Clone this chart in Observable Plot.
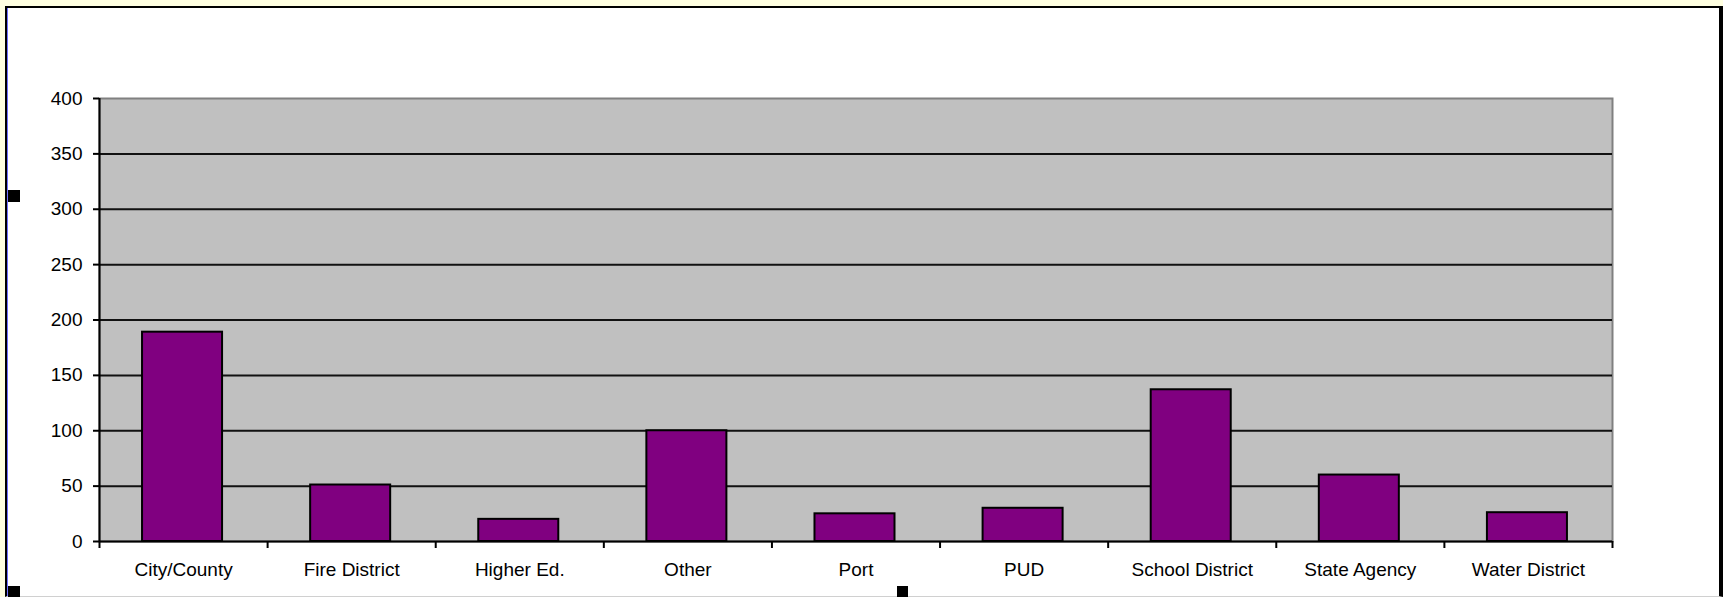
<!DOCTYPE html>
<html><head><meta charset="utf-8">
<script src="https://cdn.jsdelivr.net/npm/d3@7"></script>
<script src="https://cdn.jsdelivr.net/npm/@observablehq/plot@0.6"></script>
<style>
html,body{margin:0;padding:0;background:#ffffe1;width:1723px;height:597px;overflow:hidden;}
#frame{position:absolute;left:5px;top:6px;width:1718px;height:591px;background:#fff;border-left:2px solid #000;border-top:2px solid #000;border-right:4px solid #000;border-bottom:1px solid #d0d0d0;box-sizing:border-box;box-shadow: inset 1px 0 0 #7070ff;}
#chart{position:absolute;left:0;top:0;}
.handle{position:absolute;background:#000;}
</style></head><body>
<div id="frame"></div>
<div id="chart"></div>
<div class="handle" style="left:8px;top:190px;width:12px;height:12px"></div>
<div class="handle" style="left:8px;top:586px;width:12px;height:11px"></div>
<div class="handle" style="left:897px;top:586px;width:11px;height:11px"></div>
<script>
const categories = ["City/County", "Fire District", "Higher Ed.", "Other", "Port", "PUD", "School District", "State Agency", "Water District"];
const values = [189, 51, 20, 100, 25, 30, 137, 60, 26];
const yTicks = [0, 50, 100, 150, 200, 250, 300, 350, 400];

const data = categories.map((c, i) => ({category: c, index: i, value: values[i]}));

const chart = Plot.plot({
  width: 1723,
  height: 597,
  marginLeft: 99,
  marginRight: 111,
  marginTop: 98,
  marginBottom: 56,
  style: {background: "transparent", fontFamily: "'Liberation Sans', Arial, sans-serif", fontSize: "19px", color: "#000"},
  x: {type: "linear", domain: [0, categories.length]},
  y: {domain: [0, 400]},
  marks: [
    Plot.frame({fill: "#c0c0c0", stroke: "#808080", strokeWidth: 2}),
    Plot.ruleY(yTicks.filter(d => d > 0 && d < 400), {stroke: "#111", strokeWidth: 2}),
    Plot.rectY(data, {x1: d => d.index + 0.256, x2: d => d.index + 0.732, y: "value", fill: "#800080", stroke: "#000", strokeWidth: 2}),
    Plot.ruleX([0], {stroke: "#000", strokeWidth: 2}),
    Plot.ruleY([0], {stroke: "#000", strokeWidth: 2}),
    Plot.axisY({ticks: yTicks, tickSize: 6, tickPadding: 11, label: null, tickFormat: d => String(d), strokeWidth: 2}),
    Plot.axisX({ticks: d3.range(categories.length + 1), tickSize: 7, tickFormat: () => "", label: null, strokeWidth: 2}),
    Plot.axisX({ticks: categories.map((c, i) => i + 0.5), tickSize: 0, tickPadding: 21, tickFormat: d => categories[Math.floor(d)], label: null})
  ]
});
document.getElementById("chart").appendChild(chart);
</script>
</body></html>
